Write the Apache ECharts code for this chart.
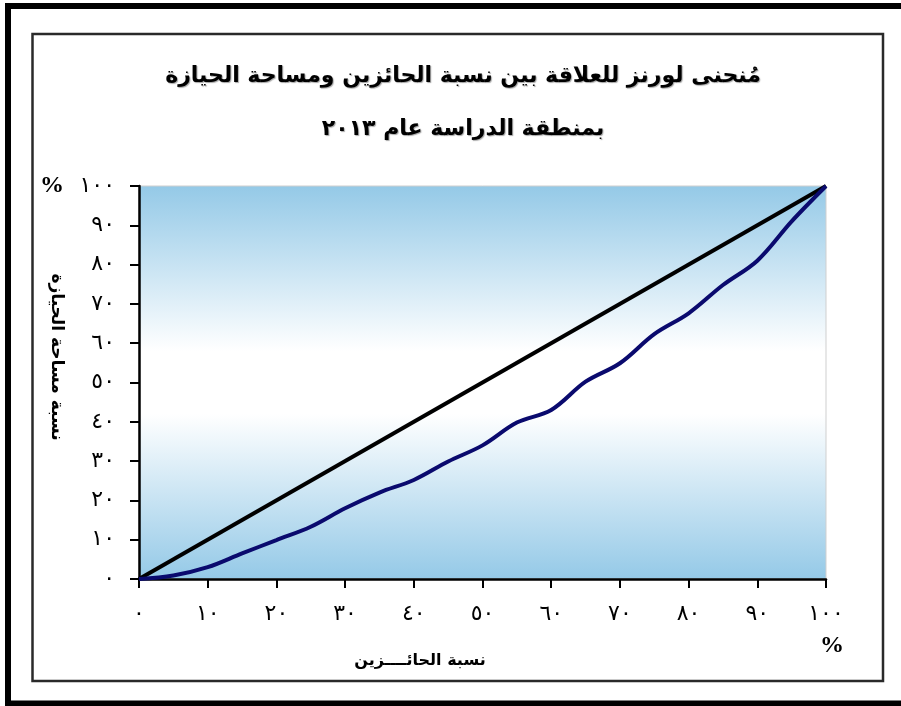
<!DOCTYPE html>
<html>
<head>
<meta charset="utf-8">
<script src="https://cdn.jsdelivr.net/npm/echarts@6/dist/echarts.min.js"></script>
<style>html,body{margin:0;padding:0;background:#fff;}#c{width:901px;height:706px;}</style>
</head>
<body>
<div id="c"></div>
<script>
// Data
var holdersPct = [0, 5, 10, 15, 20, 25, 30, 35, 40, 45, 50, 55, 60, 65, 70, 75, 80, 85, 90, 95, 100];
var areaPct    = [0, 0.9, 3.0, 6.5, 9.9, 13.3, 18.0, 22.0, 25.2, 29.9, 34.0, 39.8, 43.0, 50.2, 54.9, 62.3, 67.6, 74.8, 81.0, 91.0, 100];
var equalityX = [0, 100];
var equalityY = [0, 100];
var tickLabels = ['٠', '١٠', '٢٠', '٣٠', '٤٠', '٥٠', '٦٠', '٧٠', '٨٠', '٩٠', '١٠٠'];
var titleLines = ['مُنحنى لورنز للعلاقة بين نسبة الحائزين ومساحة الحيازة', 'بمنطقة الدراسة عام ٢٠١٣'];
var xName = 'نسبة الحائــــزين';
var yName = 'نسبة مساحة الحيازة';

function pairs(xs, ys) { return xs.map(function (x, i) { return [x, ys[i]]; }); }
function fmt(v) { return tickLabels[Math.round(v / 10)]; }

var chart = echarts.init(document.getElementById('c'), null, { renderer: 'canvas' });
var font = 'DejaVu Sans';
var blue = '#94c9e7';
chart.setOption({
  animation: false,
  backgroundColor: '#ffffff',
  title: {
    text: titleLines.join('\n'),
    left: 458, top: 45, textAlign: 'center',
    textStyle: { fontFamily: font, fontSize: 22, fontWeight: 'bold', color: '#000', lineHeight: 53,
      textShadowColor: 'rgba(0,0,0,0.35)', textShadowOffsetX: 1, textShadowOffsetY: 1, textShadowBlur: 1 }
  },
  grid: {
    left: 139, right: 75, top: 186, bottom: 127, show: true,
    borderColor: '#cfcfcf', borderWidth: 1,
    backgroundColor: new echarts.graphic.LinearGradient(0, 0, 0, 1, [
      { offset: 0, color: blue },
      { offset: 0.42, color: '#ffffff' },
      { offset: 0.58, color: '#ffffff' },
      { offset: 1, color: blue }
    ])
  },
  xAxis: {
    type: 'value', min: 0, max: 100, interval: 10,
    axisLine: { show: true, lineStyle: { color: '#000', width: 2.5 } },
    axisTick: { show: true, inside: false, length: 9, lineStyle: { color: '#000', width: 2 } },
    axisLabel: { formatter: fmt, margin: 24, fontFamily: font, fontSize: 22, color: '#000' },
    splitLine: { show: false }
  },
  yAxis: {
    type: 'value', min: 0, max: 100, interval: 10,
    axisLine: { show: true, lineStyle: { color: '#000', width: 2.5 } },
    axisTick: { show: true, inside: false, length: 9, lineStyle: { color: '#000', width: 2 } },
    axisLabel: { formatter: fmt, margin: 24, fontFamily: font, fontSize: 22, color: '#000' },
    splitLine: { show: false }
  },
  series: [
    { type: 'line', data: pairs(equalityX, equalityY), symbol: 'none', z: 3,
      lineStyle: { color: '#000000', width: 4 } },
    { type: 'line', data: pairs(holdersPct, areaPct), symbol: 'none', smooth: 0.35, z: 4,
      lineStyle: { color: '#0a0a6e', width: 4 } }
  ],
  graphic: [
    { type: 'rect', z: 100, silent: true, shape: { x: 8, y: 6, width: 905, height: 697.5 },
      style: { fill: 'none', stroke: '#000', lineWidth: 6 } },
    { type: 'rect', z: 100, silent: true, shape: { x: 32.5, y: 34, width: 850.5, height: 647 },
      style: { fill: 'none', stroke: '#2a2a2a', lineWidth: 2.5 } },
    { type: 'text', z: 100, x: 56, y: 357, rotation: -Math.PI / 2,
      style: { text: yName, fontFamily: font, fontSize: 17, fontWeight: 'bold', fill: '#000',
        textAlign: 'center', textVerticalAlign: 'middle' } },
    { type: 'text', z: 100, x: 420, y: 661,
      style: { text: xName, fontFamily: font, fontSize: 16, fontWeight: 'bold', fill: '#000',
        textAlign: 'center', textVerticalAlign: 'middle' } },
    { type: 'text', z: 100, left: 40, top: 174,
      style: { text: '%', fontFamily: 'Liberation Serif', fontSize: 24, fontWeight: 'bold', fill: '#000' } },
    { type: 'text', z: 100, left: 820, top: 634,
      style: { text: '%', fontFamily: 'Liberation Serif', fontSize: 24, fontWeight: 'bold', fill: '#000' } }
  ]
});
</script>
</body>
</html>
